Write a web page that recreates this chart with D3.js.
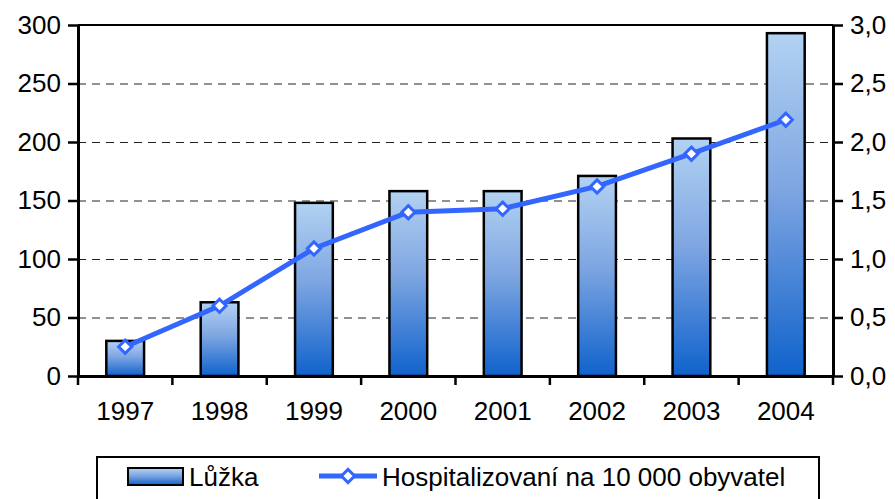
<!DOCTYPE html>
<html>
<head>
<meta charset="utf-8">
<style>
    body { margin: 0; background: #fff; }
    svg text { font-family: "Liberation Sans", Arial, sans-serif; fill: #000; }
    .legend text { font-size: 26px; }
</style>
<script src="https://d3js.org/d3.v7.min.js"></script>
</head>
<body>
<svg width="895" height="499"></svg>
<script>
    // data
    var years = ["1997", "1998", "1999", "2000", "2001", "2002", "2003", "2004"];
    var luzka = [30, 63, 148, 158, 158, 171, 203, 293];
    var hospitalizovani = [0.25, 0.60, 1.09, 1.40, 1.43, 1.62, 1.90, 2.19];
    var leftTicks = [0, 50, 100, 150, 200, 250, 300];
    var rightTicks = [0, 0.5, 1, 1.5, 2, 2.5, 3];

    var svg = d3.select("svg");
    var plotL = 78, plotR = 833, plotT = 25, plotB = 376;

    var x = d3.scaleBand().domain(years).range([plotL, plotR]).paddingInner(0.6).paddingOuter(0.3);
    var xb = d3.scaleBand().domain(years).range([plotL, plotR]);
    var y = d3.scaleLinear().domain([0, 300]).range([plotB, plotT]);
    var y2 = d3.scaleLinear().domain([0, 3]).range([plotB, plotT]);

    var defs = svg.append("defs");
    var grad = defs.append("linearGradient").attr("id", "barGrad")
        .attr("x1", 0).attr("y1", 0).attr("x2", 0).attr("y2", 1);
    grad.append("stop").attr("offset", "0%").attr("stop-color", "#b2d2f2");
    grad.append("stop").attr("offset", "45%").attr("stop-color", "#7fa6e2");
    grad.append("stop").attr("offset", "100%").attr("stop-color", "#0f62cc");

    // gridlines
    svg.append("g").selectAll("line")
        .data(leftTicks.filter(function (d) { return d > 0 && d < 300; }))
        .enter().append("line")
        .attr("x1", plotL).attr("x2", plotR)
        .attr("y1", function (d) { return y(d) + 0.5; })
        .attr("y2", function (d) { return y(d) + 0.5; })
        .attr("stroke", "#222").attr("stroke-width", 1)
        .attr("stroke-dasharray", "8,6");

    // top border
    svg.append("line").attr("x1", plotL).attr("x2", plotR)
        .attr("y1", plotT).attr("y2", plotT)
        .attr("stroke", "#000").attr("stroke-width", 2);

    // bars
    svg.append("g").selectAll("rect")
        .data(luzka).enter().append("rect")
        .attr("x", function (d, i) { return x(years[i]); })
        .attr("y", function (d) { return y(d); })
        .attr("width", x.bandwidth())
        .attr("height", function (d) { return plotB - y(d); })
        .attr("fill", "url(#barGrad)")
        .attr("stroke", "#000").attr("stroke-width", 2.5);

    // axes
    var yAxis = svg.append("g").attr("transform", "translate(" + plotL + ",0)")
        .call(d3.axisLeft(y).tickValues(leftTicks).tickSize(10).tickSizeOuter(0).tickPadding(7));
    var yAxis2 = svg.append("g").attr("transform", "translate(" + plotR + ",0)")
        .call(d3.axisRight(y2).tickValues(rightTicks).tickSize(10).tickSizeOuter(0).tickPadding(7)
            .tickFormat(function (d) { return d3.format(".1f")(d).replace(".", ","); }));
    var xAxis = svg.append("g").attr("transform", "translate(0," + plotB + ")")
        .call(d3.axisBottom(xb).tickSize(0).tickSizeOuter(0).tickPadding(26));
    // ticks at band boundaries
    xAxis.selectAll(".bound").data(d3.range(years.length + 1)).enter().append("line")
        .attr("class", "bound")
        .attr("x1", function (i) { return plotL + i * xb.step(); })
        .attr("x2", function (i) { return plotL + i * xb.step(); })
        .attr("y1", 0).attr("y2", 9)
        .attr("stroke", "#000").attr("stroke-width", 2.5);

    [yAxis, yAxis2, xAxis].forEach(function (a) {
        a.select(".domain").attr("stroke", "#000").attr("stroke-width", 3);
        a.selectAll(".tick line").attr("stroke", "#000").attr("stroke-width", 2.5);
        a.selectAll(".tick text").style("font-size", "26px").attr("fill", "#000");
    });

    // line series
    var line = d3.line()
        .x(function (d, i) { return xb(years[i]) + xb.bandwidth() / 2; })
        .y(function (d) { return y2(d); });
    svg.append("path").datum(hospitalizovani)
        .attr("d", line)
        .attr("fill", "none").attr("stroke", "#3366ff").attr("stroke-width", 5);

    var diamond = d3.symbol().type(d3.symbolDiamond2).size(110);
    svg.append("g").selectAll("path")
        .data(hospitalizovani).enter().append("path")
        .attr("d", diamond)
        .attr("transform", function (d, i) {
            return "translate(" + (xb(years[i]) + xb.bandwidth() / 2) + "," + y2(d) + ")";
        })
        .attr("fill", "#fff").attr("stroke", "#3366ff").attr("stroke-width", 3);

    // legend
    var lg = svg.append("g").attr("class", "legend");
    lg.append("rect").attr("x", 97).attr("y", 457).attr("width", 722).attr("height", 60)
        .attr("fill", "#fff").attr("stroke", "#000").attr("stroke-width", 2);
    lg.append("rect").attr("x", 128).attr("y", 468).attr("width", 55).attr("height", 17)
        .attr("fill", "url(#barGrad)").attr("stroke", "#000").attr("stroke-width", 2);
    lg.append("text").attr("x", 189).attr("y", 486).text("Lůžka");
    lg.append("line").attr("x1", 319).attr("x2", 377).attr("y1", 476).attr("y2", 476)
        .attr("stroke", "#3366ff").attr("stroke-width", 5);
    lg.append("path").attr("d", diamond)
        .attr("transform", "translate(348,476)")
        .attr("fill", "#fff").attr("stroke", "#3366ff").attr("stroke-width", 3);
    lg.append("text").attr("x", 382).attr("y", 486).text("Hospitalizovaní na 10 000 obyvatel");
</script>
</body>
</html>
